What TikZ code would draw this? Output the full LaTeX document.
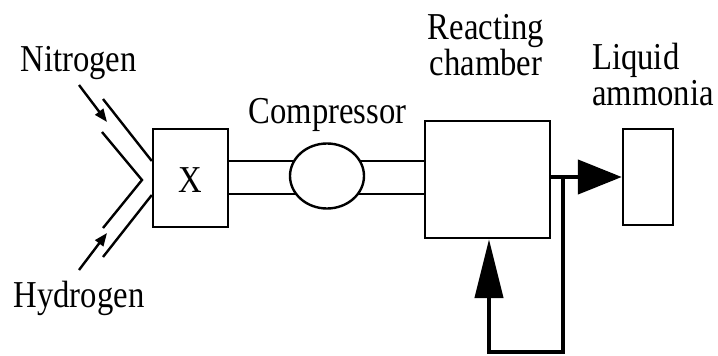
\documentclass[tikz,border=0pt]{standalone}
\usepackage{fontspec}
\setmainfont[FakeStretch=0.86]{Liberation Serif}
\usetikzlibrary{arrows.meta,shapes.geometric,calc}
\begin{document}
\begin{tikzpicture}[x=1pt,y=-1pt,
  unit/.style={draw,line width=2.4pt,inner sep=0pt,minimum width=#1},
  pipe/.style={line width=2.4pt},
  flow/.style={line width=4.5pt},
  lbl/.style={inner sep=0pt,font=\fontsize{38}{40}\selectfont},
  feed/.style={line width=2.4pt,-{Triangle[length=13pt,width=10pt]}}]
\useasboundingbox[fill=white] (0,0) rectangle (718,356);
% units
\node[unit=75pt,minimum height=98pt] (X) at (190.5,178) {};
\node[lbl,anchor=base] (xl) at (190.5,192) {X};
\node[draw,ellipse,line width=2.4pt,inner sep=0pt,minimum width=74pt,minimum height=65pt] (E) at (327,176) {};
\node[unit=125pt,minimum height=117pt] (C) at (487.5,179.5) {};
\node[unit=50pt,minimum height=96pt] (A) at (648,177) {};
% labels
\node[lbl,anchor=base] (n) at (78.5,71) {Nitrogen};
\node[lbl,anchor=base] (h) at (79,307) {Hydrogen};
\node[lbl,anchor=base] (cl) at (327.5,123) {Compressor};
\node[lbl,anchor=south,align=center,font=\fontsize{38}{31}\selectfont] (r) at (486,76) {Reacting\\chamber};
\node[lbl,anchor=south west,align=left,font=\fontsize{38}{36}\selectfont] (l) at (592,106) {Liquid\\ammonia};
% coordinates
\coordinate (yu) at (0,161);
\coordinate (yl) at (0,194);
\path (E.center) ++(-32.8,-15) coordinate (e1) (E.center) ++(-30.8,18) coordinate (e2)
      (E.center) ++(32.8,-15) coordinate (e3) (E.center) ++(30.8,18) coordinate (e4);
% pipes X -> compressor -> chamber
\draw[pipe] (X.east |- yu) -- (e1);
\draw[pipe] (X.east |- yl) -- (e2);
\draw[pipe] (e3) -- (C.west |- yu);
\draw[pipe] (e4) -- (C.west |- yl);
% inlet pipes
\coordinate (o1) at (103,99);
\coordinate (o2) at (103,257);
\coordinate (i1) at (102,132);
\coordinate (iv) at (142,180);
\coordinate (i2) at (103,228);
\draw[pipe] (o1) -- (X.west |- yu);
\draw[pipe] (o2) -- ($(X.west |- yl)+(0,1)$);
\draw[pipe,line join=miter] (i1) -- (iv) -- (i2);
% feed arrows
\coordinate (na) at (79,85);
\coordinate (nt) at (107,122);
\coordinate (ha) at (79,270);
\coordinate (ht) at (107,233);
\draw[feed] (na) -- (nt);
\draw[feed] (ha) -- (ht);
% product and recycle
\coordinate (j) at (563,177);
\coordinate (b1) at (563,352);
\coordinate (b2) at (489,352);
\draw[flow,-{Triangle[length=44pt,width=34pt]}] (C.east |- j) -- (A.west);
\draw[flow,line join=miter,-{Triangle[length=59pt,width=28pt]}] (j) -- (b1) -- (b2) -- (C.south -| b2);
\end{tikzpicture}
\end{document}
